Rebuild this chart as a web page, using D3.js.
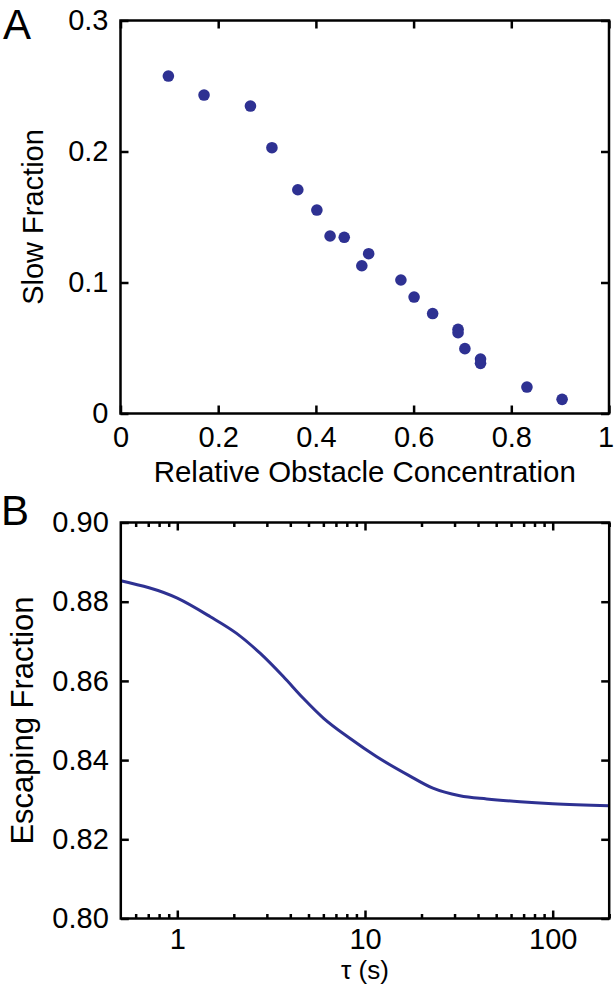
<!DOCTYPE html>
<html>
<head>
<meta charset="utf-8">
<script src="https://cdn.jsdelivr.net/npm/d3@7"></script>
<style>
  html, body { margin: 0; padding: 0; background: #fff; }
  svg text { font-family: "Liberation Sans", Arial, Helvetica, sans-serif; fill: #000; }
</style>
</head>
<body>
<svg id="chart" width="616" height="989"></svg>
<script>
// ---- Panel A data ----
const concentration = [0.098, 0.171, 0.266, 0.310, 0.363, 0.402, 0.429, 0.458, 0.494, 0.508, 0.574, 0.601, 0.639, 0.691, 0.691, 0.705, 0.737, 0.737, 0.832, 0.904];
const slowFraction  = [0.2576, 0.2431, 0.2347, 0.2029, 0.1708, 0.1553, 0.1355, 0.1345, 0.1128, 0.1220, 0.1019, 0.0889, 0.0763, 0.0643, 0.0617, 0.0495, 0.0416, 0.0383, 0.0202, 0.0108];
const aXTicks = [0, 0.2, 0.4, 0.6, 0.8, 1];
const aXTickLabels = ["0", "0.2", "0.4", "0.6", "0.8", "1"];
const aYTicks = [0, 0.1, 0.2, 0.3];
const aYTickLabels = ["0", "0.1", "0.2", "0.3"];

// ---- Panel B data ----
const tau = [0.5, 1.0, 1.5, 2.07, 2.76, 3.67, 4.69, 6.0, 8.3, 11.5, 17, 23, 32, 44.5, 67, 100, 200];
const escapingFraction = [0.8853, 0.8809, 0.8762, 0.8720, 0.8670, 0.8611, 0.8556, 0.8506, 0.8455, 0.8409, 0.8362, 0.8329, 0.8310, 0.8302, 0.8295, 0.8290, 0.8285];
const bXMajorTicks = [1, 10, 100];
const bXMajorLabels = ["1", "10", "100"];
const bXMinorTicks = [0.6, 0.7, 0.8, 0.9, 2, 3, 4, 5, 6, 7, 8, 9, 20, 30, 40, 50, 60, 70, 80, 90, 200];
const bYTicks = [0.80, 0.82, 0.84, 0.86, 0.88, 0.90];
const bYTickLabels = ["0.80", "0.82", "0.84", "0.86", "0.88", "0.90"];

const blue = "#2e3192";
const svg = d3.select("#chart");
const tickFont = 29;
const frameW = 2.5;

function styleAxis(g) {
  g.select(".domain").remove();
  g.selectAll(".tick line").attr("stroke", "#000").attr("stroke-width", frameW);
  g.selectAll(".tick text").attr("font-size", tickFont).attr("fill", "#000");
}

function fmt(ticks, labels) {
  return d => labels[ticks.findIndex(t => Math.abs(t - d) < 1e-9)];
}

// ================= Panel A =================
const A = { left: 120.5, right: 609, top: 20.5, bottom: 413.5 };
const xA = d3.scaleLinear().domain([0, 1]).range([A.left, A.right]);
const yA = d3.scaleLinear().domain([0, 0.3]).range([A.bottom, A.top]);

const gA = svg.append("g");
gA.append("g").attr("transform", `translate(0,${A.bottom})`)
  .call(d3.axisBottom(xA).tickValues(aXTicks).tickFormat(fmt(aXTicks, aXTickLabels)).tickSize(-8).tickPadding(13))
  .call(styleAxis)
  .call(g => g.selectAll(".tick text").filter(d => d === 1).attr("dx", "-0.12em"));
gA.append("g").attr("transform", `translate(0,${A.top})`)
  .call(d3.axisTop(xA).tickValues(aXTicks).tickFormat("").tickSize(-8))
  .call(styleAxis);
gA.append("g").attr("transform", `translate(${A.left},0)`)
  .call(d3.axisLeft(yA).tickValues(aYTicks).tickFormat(fmt(aYTicks, aYTickLabels)).tickSize(-8).tickPadding(12))
  .call(styleAxis);
gA.append("g").attr("transform", `translate(${A.right},0)`)
  .call(d3.axisRight(yA).tickValues(aYTicks).tickFormat("").tickSize(-8))
  .call(styleAxis);
gA.append("rect").attr("x", A.left).attr("y", A.top)
  .attr("width", A.right - A.left).attr("height", A.bottom - A.top)
  .attr("fill", "none").attr("stroke", "#000").attr("stroke-width", frameW);

gA.append("g").selectAll("circle")
  .data(concentration.map((c, i) => [c, slowFraction[i]]))
  .join("circle")
  .attr("cx", d => xA(d[0])).attr("cy", d => yA(d[1])).attr("r", 5.8)
  .attr("fill", blue);

gA.append("text").attr("x", (A.left + A.right) / 2).attr("y", 482)
  .attr("text-anchor", "middle").attr("font-size", 29)
  .attr("textLength", 422).attr("lengthAdjust", "spacingAndGlyphs")
  .text("Relative Obstacle Concentration");
gA.append("text").attr("transform", `translate(43,${(A.top + A.bottom) / 2}) rotate(-90)`)
  .attr("text-anchor", "middle").attr("font-size", 29)
  .text("Slow Fraction");
gA.append("text").attr("x", 3).attr("y", 39).attr("font-size", 42).text("A");

// ================= Panel B =================
const B = { left: 120.8, right: 609.2, top: 522.5, bottom: 918.5 };
const xB = d3.scaleLog().domain([0.5, 200]).range([B.left, B.right]);
const yB = d3.scaleLinear().domain([0.80, 0.90]).range([B.bottom, B.top]);

const gB = svg.append("g");
gB.append("g").attr("transform", `translate(0,${B.bottom})`)
  .call(d3.axisBottom(xB).tickValues(bXMajorTicks).tickFormat(fmt(bXMajorTicks, bXMajorLabels)).tickSize(-8).tickPadding(10))
  .call(styleAxis);
gB.append("g").attr("transform", `translate(0,${B.bottom})`)
  .call(d3.axisBottom(xB).tickValues(bXMinorTicks).tickFormat("").tickSize(-4.5))
  .call(styleAxis);
gB.append("g").attr("transform", `translate(0,${B.top})`)
  .call(d3.axisTop(xB).tickValues(bXMajorTicks).tickFormat("").tickSize(-8))
  .call(styleAxis);
gB.append("g").attr("transform", `translate(0,${B.top})`)
  .call(d3.axisTop(xB).tickValues(bXMinorTicks).tickFormat("").tickSize(-4.5))
  .call(styleAxis);
gB.append("g").attr("transform", `translate(${B.left},0)`)
  .call(d3.axisLeft(yB).tickValues(bYTicks).tickFormat(fmt(bYTicks, bYTickLabels)).tickSize(-8).tickPadding(12))
  .call(styleAxis);
gB.append("g").attr("transform", `translate(${B.right},0)`)
  .call(d3.axisRight(yB).tickValues(bYTicks).tickFormat("").tickSize(-8))
  .call(styleAxis);

gB.append("path")
  .datum(tau.map((t, i) => [t, escapingFraction[i]]))
  .attr("fill", "none").attr("stroke", blue).attr("stroke-width", 3)
  .attr("stroke-linejoin", "round")
  .attr("d", d3.line().x(d => xB(d[0])).y(d => yB(d[1])).curve(d3.curveMonotoneX));

gB.append("rect").attr("x", B.left).attr("y", B.top)
  .attr("width", B.right - B.left).attr("height", B.bottom - B.top)
  .attr("fill", "none").attr("stroke", "#000").attr("stroke-width", frameW);

gB.append("text").attr("x", (B.left + B.right) / 2).attr("y", 979)
  .attr("text-anchor", "middle").attr("font-size", 26)
  .text("τ (s)");
gB.append("text").attr("transform", `translate(33,${(B.top + B.bottom) / 2}) rotate(-90)`)
  .attr("text-anchor", "middle").attr("font-size", 31)
  .text("Escaping Fraction");
gB.append("text").attr("x", 1).attr("y", 525).attr("font-size", 42).text("B");
</script>
</body>
</html>
